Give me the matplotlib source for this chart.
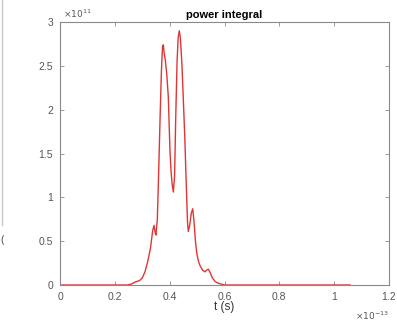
import matplotlib

matplotlib.use("Agg")
import matplotlib.pyplot as plt
from matplotlib.ticker import FuncFormatter
from matplotlib.lines import Line2D

# time in units of 1e-13 s, power integral in units of 1e11
t_vals = [0.0, 0.20, 0.245, 0.26, 0.275, 0.29, 0.30, 0.31, 0.32, 0.33,
          0.338, 0.343, 0.347, 0.350, 0.355, 0.36, 0.365, 0.370, 0.374, 0.377,
          0.380, 0.384, 0.389, 0.395, 0.401, 0.405, 0.409, 0.4135, 0.418, 0.422,
          0.427, 0.431, 0.435, 0.439, 0.445, 0.450, 0.455, 0.460, 0.465, 0.468,
          0.473, 0.479, 0.484, 0.489, 0.494, 0.499, 0.505, 0.511, 0.520, 0.529,
          0.535, 0.541, 0.548, 0.556, 0.566, 0.577, 0.60, 1.058]
p_vals = [0.0, 0.0, 0.0, 0.01, 0.035, 0.05, 0.08, 0.15, 0.27, 0.42,
          0.62, 0.68, 0.60, 0.57, 0.75, 1.3, 1.9, 2.45, 2.72, 2.74,
          2.64, 2.57, 2.42, 2.15, 1.54, 1.3, 1.15, 1.06, 1.25, 1.9,
          2.55, 2.82, 2.9, 2.82, 2.5, 2.1, 1.7, 1.2, 0.72, 0.61,
          0.68, 0.82, 0.87, 0.72, 0.5, 0.36, 0.27, 0.22, 0.17, 0.15,
          0.17, 0.18, 0.14, 0.08, 0.04, 0.02, 0.0, 0.0]

x_ticks = [0, 0.2, 0.4, 0.6, 0.8, 1.0, 1.2]
y_ticks = [0, 0.5, 1, 1.5, 2, 2.5, 3]

plt.rcParams.update({
    "font.family": ["Liberation Sans", "DejaVu Sans"],
    "font.size": 7.5,
})

axis_gray = "#8a8a8a"
label_gray = "#555555"

fig = plt.figure(figsize=(3.97, 3.21), dpi=100)
ax = fig.add_axes([60 / 397, 36 / 321, 329 / 397, 263 / 321])

ax.plot(t_vals, p_vals, color="#e03535", linewidth=1.0)

ax.set_xlim(0, 1.2)
ax.set_ylim(0, 3)
ax.set_xticks(x_ticks)
ax.set_yticks(y_ticks)
fmt = FuncFormatter(lambda v, pos: f"{v:g}")
ax.xaxis.set_major_formatter(fmt)
ax.yaxis.set_major_formatter(fmt)
ax.tick_params(direction="in", length=3, width=0.6, colors=axis_gray,
               labelcolor=label_gray, labelsize=7.5, top=True, right=True, pad=5)
for sp in ax.spines.values():
    sp.set_color(axis_gray)
    sp.set_linewidth(0.8)

ax.set_title("power integral", fontsize=8, fontweight="bold", pad=3)
ax.set_xlabel("t (s)", fontsize=8.5, color="#333333", labelpad=-1)

# exponent labels in MATLAB style
ax.text(0.01, 1.008, r"$\times10^{11}$", transform=ax.transAxes,
        ha="left", va="bottom", fontsize=6.5, color=label_gray)
ax.text(1.0, -0.095, r"$\times10^{-13}$", transform=ax.transAxes,
        ha="right", va="top", fontsize=6.5, color=label_gray)

# cropped screenshot remnant on the left edge
fig.add_artist(Line2D([1.5 / 397, 1.5 / 397], [1.0, 1 - 225 / 321],
                      transform=fig.transFigure, color="#c8c8c8", linewidth=1.0))
fig.text(0.0, 1 - 240 / 321, "(", fontsize=7, color="#444444", va="center", ha="left")

fig.savefig("out.png", dpi=100)
